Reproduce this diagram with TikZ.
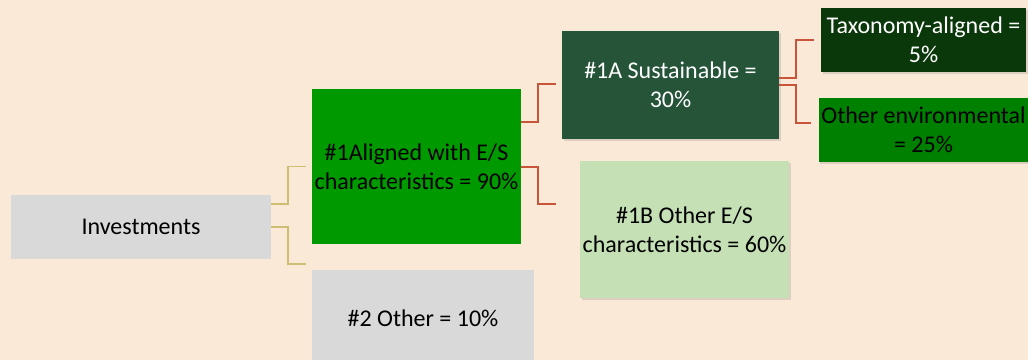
\documentclass[tikz,border=0pt]{standalone}
\usepackage{fontspec}
\setmainfont{Carlito}
\usetikzlibrary{positioning,calc,shadows}

\definecolor{bgpeach}{HTML}{FBE9D8}
\definecolor{boxgray}{HTML}{D9D9D9}
\definecolor{esgreen}{HTML}{009900}
\definecolor{susgreen}{HTML}{255439}
\definecolor{palegreen}{HTML}{C5E0B4}
\definecolor{taxgreen}{HTML}{0B380B}
\definecolor{envgreen}{HTML}{008000}
\definecolor{goldlink}{HTML}{CDBE73}
\definecolor{redlink}{HTML}{C8553A}

\tikzset{
  box/.style = {rectangle, inner sep=2pt, align=center,
    font=\fontsize{18pt}{21.5pt}\selectfont},
  shadowed/.style = {drop shadow={opacity=0.25, shadow xshift=1.2pt, shadow yshift=-1.8pt}},
  goldline/.style = {draw=goldlink, line width=1.3pt},
  redline/.style = {draw=redlink, line width=1.5pt},
}

\begin{document}
\begin{tikzpicture}[x=0.75pt, y=-0.75pt]
    \fill[bgpeach] (0,0) rectangle (1028,360);
    \useasboundingbox (0,0) rectangle (1028,360);
    \clip (0,0) rectangle (1028,360);

    % first level
    \node[box, fill=boxgray, minimum width=195pt, minimum height=48pt] (inv) at (141,227) {Investments};

    % second level
    \node[box, fill=esgreen, minimum width=156.75pt, minimum height=116.25pt] (alig) at (416.5,166.5)
      {\#1Aligned with E/S\\characteristics = 90\%};
    \node[box, fill=boxgray, minimum width=166.5pt, minimum height=72pt] (oth) at (423,318)
      {\#2 Other = 10\%};

    % third level
    \node[box, shadowed, fill=susgreen, text=white, minimum width=162.75pt, minimum height=81pt] (sus) at (670.5,85)
      {\#1A Sustainable =\\30\%};
    \node[box, shadowed, fill=palegreen, minimum width=156.75pt, minimum height=102.75pt] (othes) at (684.5,229.5)
      {\#1B Other E/S\\characteristics = 60\%};

    % fourth level
    \node[box, shadowed, fill=taxgreen, text=white, minimum width=153.75pt, minimum height=48pt] (tax) at (923.5,40)
      {Taxonomy-aligned =\\5\%};
    \node[box, shadowed, fill=envgreen, minimum width=153.75pt, minimum height=48pt] (env) at (923.5,130)
      {Other environmental\\= 25\%};

    % links
    \draw[goldline] ($(inv.east)+(0,-23)$) -- ++(17,0) |- ($(alig.west)+(-6,0)$);
    \draw[goldline] (inv.east) -- ++(17,0) |- ($(oth.west)+(-6,-54)$);

    \draw[redline] ($(alig.east)+(0,-44.5)$) -- ++(17,0) |- ($(sus.west)+(-6,-1)$);
    \draw[redline] (alig.east) -- ++(17,0) |- ($(othes.west)+(-24,-25.5)$);

    \draw[redline] ($(sus.east)+(0,-7)$) -- ++(17,0) |- ($(tax.west)+(-7,0)$);
    \draw[redline] (sus.east) -- ++(17,0) |- ($(env.west)+(-7,-7)$);
\end{tikzpicture}
\end{document}
